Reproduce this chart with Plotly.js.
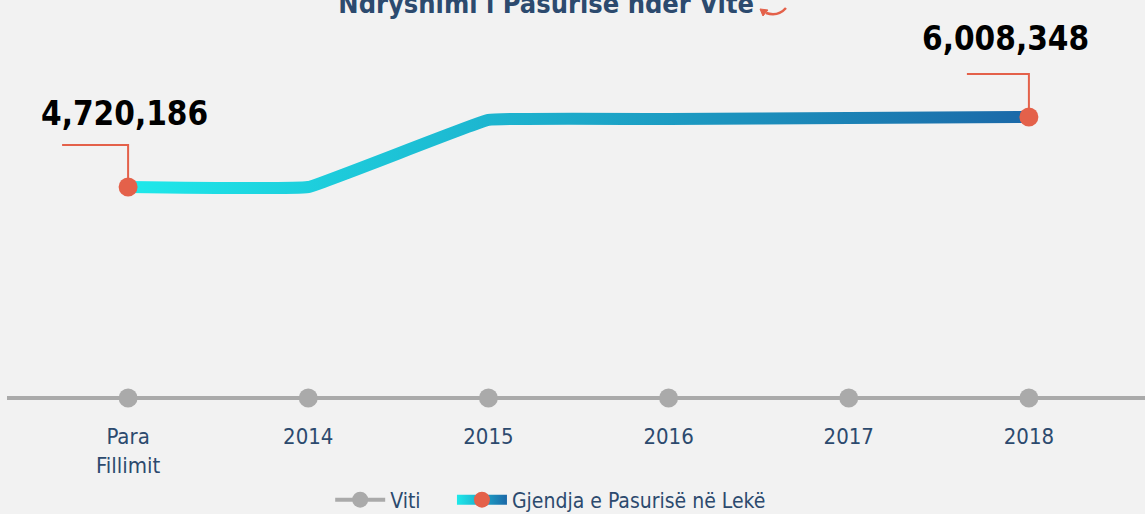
<!DOCTYPE html>
<html>
<head>
<meta charset="utf-8">
<script src="https://cdn.plot.ly/plotly-3.0.1.min.js"></script>
<style>
html,body{margin:0;padding:0;background:#f2f2f2;}
#chart{width:1145px;height:514px;}
</style>
</head>
<body>
<div id="chart"></div>
<script>
// ---- data ----
const categories = ["Para<br>Fillimit", "2014", "2015", "2016", "2017", "2018"];
const wealthValues = [4720186, 4720186, 5955000, 5972000, 5990000, 6008348];
const yearBaseline = [0, 0, 0, 0, 0, 0];
const seriesNames = ["Viti", "Gjendja e Pasurisë në Lekë"];
const titleText = "Ndryshimi i Pasurisë ndër Vite";

const FONT = '"DejaVu Sans Condensed", "Liberation Sans Narrow", sans-serif';
const BLUE_TEXT = '#2c4a6e';
const ORANGE = '#e4614a';
const GREY = '#aaaaaa';

const idx = categories.map((c, i) => i);
const lastI = wealthValues.length - 1;

const traceYears = {
  x: idx, y: yearBaseline, yaxis: 'y2',
  name: seriesNames[0], type: 'scatter', mode: 'lines+markers',
  line: {color: GREY, width: 4},
  marker: {color: GREY, size: 19},
  cliponaxis: false, hoverinfo: 'skip', legend: 'legend'
};
const traceWealth = {
  x: idx, y: wealthValues,
  name: seriesNames[1], type: 'scatter', mode: 'lines+markers',
  line: {color: '#1ab5d0', width: 12, shape: 'spline', smoothing: 0.2},
  marker: {
    color: wealthValues.map((v, i) => (i === 0 || i === lastI) ? ORANGE : 'rgba(0,0,0,0)'),
    size: 19, line: {width: 0}
  },
  cliponaxis: false, legend: 'legend2'
};

const fmt = v => v.toLocaleString('en-US');
const legendCommon = {
  orientation: 'h', xanchor: 'left', y: -0.25, yanchor: 'middle', itemwidth: 50,
  font: {family: FONT, size: 21, color: BLUE_TEXT}, bgcolor: 'rgba(0,0,0,0)'
};

const layout = {
  width: 1145, height: 514,
  paper_bgcolor: '#f2f2f2', plot_bgcolor: '#f2f2f2',
  margin: {l: 7, r: 0, t: 20, b: 110, autoexpand: false},
  font: {family: FONT, color: BLUE_TEXT},
  title: {
    text: '<b>' + titleText + '</b>',
    font: {family: FONT, size: 27, color: BLUE_TEXT},
    x: 0.477, xanchor: 'center', y: 0.993, yanchor: 'middle', yref: 'container'
  },
  showlegend: true,
  legend: Object.assign({}, legendCommon, {x: 0.284}),
  legend2: Object.assign({}, legendCommon, {x: 0.391}),
  xaxis: {
    type: 'linear', range: [-0.6722, 5.6444],
    tickvals: idx, ticktext: categories,
    showgrid: false, zeroline: false, showline: false,
    ticks: 'outside', ticklen: 13, tickcolor: 'rgba(0,0,0,0)',
    tickfont: {family: FONT, size: 22, color: BLUE_TEXT},
    fixedrange: true
  },
  yaxis: {range: [726887, 7793370], visible: false, fixedrange: true},
  yaxis2: {range: [-0.01587, 1], overlaying: 'y', visible: false, fixedrange: true},
  annotations: [
    {x: 0, y: wealthValues[0], xref: 'x', yref: 'y', text: '<b>' + fmt(wealthValues[0]) + '</b>',
     showarrow: false, yshift: 74, xshift: -4,
     font: {family: FONT, size: 33, color: '#000000'}},
    {x: lastI, y: wealthValues[lastI], xref: 'x', yref: 'y', text: '<b>' + fmt(wealthValues[lastI]) + '</b>',
     showarrow: false, yshift: 79, xshift: -23,
     font: {family: FONT, size: 33, color: '#000000'}}
  ],
  shapes: [
    // baseline of the "Viti" timeline across the full width
    {type: 'line', xref: 'paper', yref: 'y2', x0: 0, x1: 1, y0: yearBaseline[0], y1: yearBaseline[0],
     line: {color: GREY, width: 4}, layer: 'below'},
    {type: 'path', xref: 'x', yref: 'y', xsizemode: 'pixel', ysizemode: 'pixel',
     xanchor: 0, yanchor: wealthValues[0], path: 'M -66,42 L 0,42 L 0,0',
     line: {color: ORANGE, width: 2}, layer: 'below'},
    {type: 'path', xref: 'x', yref: 'y', xsizemode: 'pixel', ysizemode: 'pixel',
     xanchor: lastI, yanchor: wealthValues[lastI], path: 'M -62,43 L 0,43 L 0,0',
     line: {color: ORANGE, width: 2}, layer: 'below'},
    // small decorative curved arrow next to the title
    {type: 'path', xref: 'paper', yref: 'paper',
     path: 'M 0.6845,1.03125 Q 0.6775,1.00781 0.6670,1.01823',
     line: {color: ORANGE, width: 2.5}},
    {type: 'path', xref: 'paper', yref: 'paper',
     path: 'M 0.6617,1.02865 L 0.6687,1.02604 L 0.6643,1.01042 Z',
     fillcolor: ORANGE, line: {color: ORANGE, width: 1}}
  ]
};

Plotly.newPlot('chart', [traceYears, traceWealth], layout, {displayModeBar: false, staticPlot: true}).then(gd => {
  const svg = gd.querySelector('svg.main-svg');
  const ns = 'http://www.w3.org/2000/svg';
  let defs = svg.querySelector('defs');
  if (!defs) { defs = document.createElementNS(ns, 'defs'); svg.insertBefore(defs, svg.firstChild); }
  function makeGrad(id, attrs) {
    const g = document.createElementNS(ns, 'linearGradient');
    g.setAttribute('id', id);
    Object.keys(attrs).forEach(k => g.setAttribute(k, attrs[k]));
    [['0%', '#1ee9ea'], ['100%', '#1b68a8']].forEach(([o, c]) => {
      const s = document.createElementNS(ns, 'stop');
      s.setAttribute('offset', o); s.setAttribute('stop-color', c);
      g.appendChild(s);
    });
    defs.appendChild(g);
  }
  makeGrad('wealthGrad', {x1: '0', x2: '1', y1: '0', y2: '0'});
  const nameOf = el => {
    const d = el.__data__;
    return d && d[0] && d[0].trace && d[0].trace.name;
  };
  gd.querySelectorAll('.scatterlayer .trace').forEach(el => {
    if (nameOf(el) === seriesNames[1]) {
      const p = el.querySelector('path.js-line');
      if (p) p.style.stroke = 'url(#wealthGrad)';
    }
  });
  gd.querySelectorAll('.traces').forEach(el => {
    if (!el.closest('.infolayer')) return;
    if (nameOf(el) === seriesNames[1]) {
      const lp = el.querySelector('path.js-line');
      if (lp) {
        const b = lp.getBBox();
        makeGrad('wealthGradLegend', {gradientUnits: 'userSpaceOnUse', x1: String(b.x), x2: String(b.x + b.width), y1: '0', y2: '0'});
        lp.style.stroke = 'url(#wealthGradLegend)';
      }
    }
  });
});
</script>
</body>
</html>
